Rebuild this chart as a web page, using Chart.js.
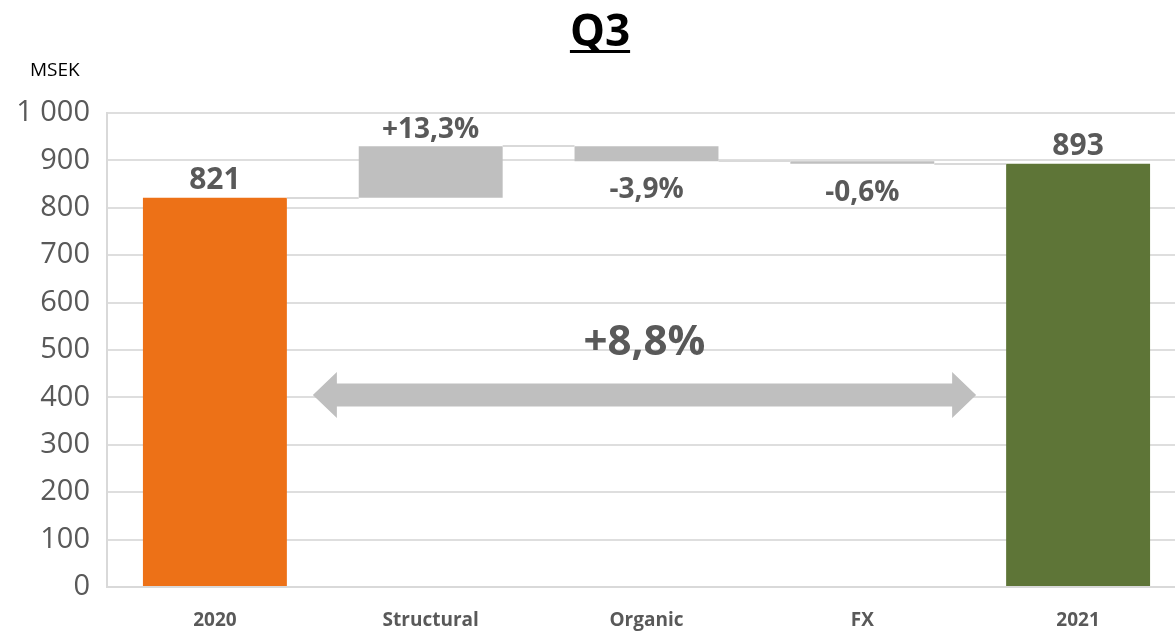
<!DOCTYPE html>
<html>
<head>
<meta charset="utf-8">
<script src="https://cdn.jsdelivr.net/npm/chart.js"></script>
<style>
html, body { margin: 0; padding: 0; background: #fff; overflow: hidden; }
#wrap { width: 1186px; height: 633px; }
</style>
</head>
<body>
<div id="wrap"><canvas id="chart"></canvas></div>
<script>
var categories = ['2020', 'Structural', 'Organic', 'FX', '2021'];
var barStart = [0, 821, 898, 893, 0];
var barEnd = [821, 930, 930, 898, 893];
var barLabels = ['821', '+13,3%', '-3,9%', '-0,6%', '893'];
var labelBelow = [false, false, true, true, false];
var barColors = ['#ED7117', '#BFBFBF', '#BFBFBF', '#BFBFBF', '#5E7537'];
var connectorLevels = [821, 930, 898, 893];
var totalChange = '+8,8%';
var arrowLevel = 405;
var yTicks = [0, 100, 200, 300, 400, 500, 600, 700, 800, 900, 1000];

var textGrey = '#595959';
var fontName = "'Open Sans', sans-serif";

var decorations = {
    id: 'decorations',
    afterDatasetsDraw: function (chart) {
        var ctx = chart.ctx;
        var y = chart.scales.y;
        var bars = chart.getDatasetMeta(0).data;
        ctx.save();

        // connector lines between bars
        ctx.strokeStyle = '#d9d9d9';
        ctx.lineWidth = 2;
        for (var i = 0; i < connectorLevels.length; i++) {
            var py = Math.round(y.getPixelForValue(connectorLevels[i]));
            ctx.beginPath();
            ctx.moveTo(bars[i].x + bars[i].width / 2, py);
            ctx.lineTo(bars[i + 1].x - bars[i + 1].width / 2, py);
            ctx.stroke();
        }

        // value labels
        ctx.fillStyle = textGrey;
        ctx.textAlign = 'center';
        for (var j = 0; j < bars.length; j++) {
            var big = (j === 0 || j === bars.length - 1);
            ctx.font = 'bold ' + (big ? 30 : 28) + 'px ' + fontName;
            if (labelBelow[j]) {
                ctx.textBaseline = 'top';
                ctx.fillText(barLabels[j], bars[j].x, y.getPixelForValue(barStart[j]) + 15);
            } else {
                ctx.textBaseline = 'bottom';
                ctx.fillText(barLabels[j], bars[j].x, y.getPixelForValue(barEnd[j]) - 2);
            }
        }

        // double arrow
        var first = bars[0], last = bars[bars.length - 1];
        var x1 = first.x + first.width / 2 + 26;
        var x2 = last.x - last.width / 2 - 30;
        var ay = y.getPixelForValue(arrowLevel);
        var band = 11.5, head = 23, headLen = 24;
        ctx.fillStyle = '#BFBFBF';
        ctx.beginPath();
        ctx.moveTo(x1, ay);
        ctx.lineTo(x1 + headLen, ay - head);
        ctx.lineTo(x1 + headLen, ay - band);
        ctx.lineTo(x2 - headLen, ay - band);
        ctx.lineTo(x2 - headLen, ay - head);
        ctx.lineTo(x2, ay);
        ctx.lineTo(x2 - headLen, ay + head);
        ctx.lineTo(x2 - headLen, ay + band);
        ctx.lineTo(x1 + headLen, ay + band);
        ctx.lineTo(x1 + headLen, ay + head);
        ctx.closePath();
        ctx.fill();

        ctx.fillStyle = textGrey;
        ctx.font = 'bold 42px ' + fontName;
        ctx.textBaseline = 'bottom';
        ctx.fillText(totalChange, (x1 + x2) / 2, ay - 31);

        // title and unit
        ctx.fillStyle = '#000';
        ctx.font = 'bold 44px ' + fontName;
        ctx.textBaseline = 'alphabetic';
        var tx = 600;
        ctx.fillText('Q3', tx, 46);
        var tw = ctx.measureText('Q3').width;
        ctx.fillRect(tx - tw / 2, 50, tw, 3);

        ctx.font = '19px ' + fontName;
        ctx.textAlign = 'left';
        ctx.fillText('MSEK', 30, 76);
        ctx.restore();
    }
};

var ctx = document.getElementById('chart');
var myChart = new Chart(ctx, {
    type: 'bar',
    data: {
        labels: categories,
        datasets: [{
            label: '',
            data: barStart.map(function (s, i) { return [s, barEnd[i]]; }),
            backgroundColor: barColors,
            borderWidth: 0,
            barPercentage: 0.667,
            categoryPercentage: 1
        }]
    },
    options: {
        responsive: true,
        maintainAspectRatio: false,
        animation: false,
        layout: { padding: { top: 113, bottom: 0, left: 0, right: 0 } },
        plugins: {
            legend: { display: false },
            tooltip: { enabled: false }
        },
        scales: {
            x: {
                afterFit: function (scale) { scale.height = 46; },
                grid: { display: false, drawTicks: false },
                border: { color: '#d9d9d9', width: 2 },
                ticks: {
                    color: textGrey,
                    padding: 22,
                    font: { family: fontName, size: 19, weight: 'bold' }
                }
            },
            y: {
                min: 0,
                max: 1000,
                afterFit: function (scale) { scale.width = 107; },
                afterBuildTicks: function (scale) {
                    scale.ticks = yTicks.map(function (v) { return { value: v }; });
                },
                grid: { color: '#dedede', lineWidth: 2, drawTicks: false },
                border: { color: '#d9d9d9', width: 2 },
                ticks: {
                    color: textGrey,
                    padding: 17,
                    font: { family: fontName, size: 29 },
                    callback: function (v) {
                        return v >= 1000 ? Math.floor(v / 1000) + ' ' + String(v % 1000).padStart(3, '0') : String(v);
                    }
                }
            }
        }
    },
    plugins: [decorations]
});
</script>
</body>
</html>
